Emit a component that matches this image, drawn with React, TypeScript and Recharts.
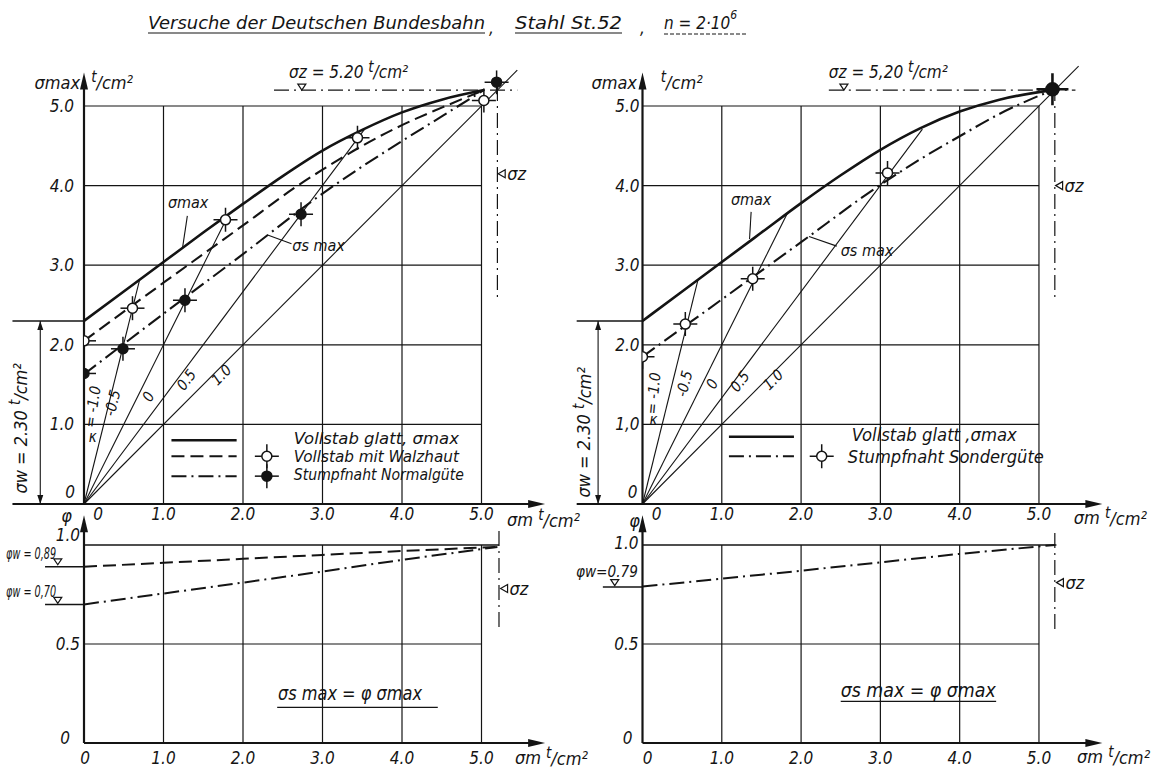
import React from "react";
import {
  ComposedChart,
  Line,
  Scatter,
  XAxis,
  YAxis,
  ReferenceLine,
  ReferenceDot,
} from "recharts";

const FONT = '"DejaVu Sans Condensed", "DejaVu Sans", sans-serif';
const INK = "#141414";
const DASHED = "13 6";
const DASH_DOT = "15 5 2 5";

// ---------- values (t/cm² and φ) ----------
const gridSteps = [1, 2, 3, 4, 5];
const stressTicks = [0, 1, 2, 3, 4, 5];
const phiTicks = [0, 0.5, 1.0];

// left: Vollstab glatt, σmax
const leftGmaxX = [0, 0.5, 1.0, 1.5, 2.0, 2.5, 3.0, 3.5, 4.0, 4.5, 5.03];
const leftGmaxY = [2.3, 2.67, 3.04, 3.41, 3.77, 4.12, 4.44, 4.7, 4.92, 5.08, 5.2];
// left: Vollstab mit Walzhaut
const leftWalzX = [0, 1.0, 2.0, 2.66, 3.0, 3.5, 4.0, 4.5, 5.03];
const leftWalzY = [2.05, 2.78, 3.5, 3.98, 4.2, 4.5, 4.76, 4.98, 5.2];
const leftWalzPtX = [0, 0.61, 1.78, 3.44, 5.03];
const leftWalzPtY = [2.05, 2.46, 3.57, 4.6, 5.07];
// left: Stumpfnaht Normalgüte
const leftNormX = [0, 1.0, 2.0, 3.0, 3.5, 4.0, 4.5, 5.03];
const leftNormY = [1.63, 2.39, 3.14, 3.9, 4.24, 4.56, 4.87, 5.2];
const leftNormPtX = [0, 0.49, 1.27, 2.73, 5.19];
const leftNormPtY = [1.64, 1.95, 2.56, 3.64, 5.3];
// left: rays κ = -0.5, 0, 0.5, 1.0 (from the origin)
const leftRayEndX = [0.7, 1.83, 3.53, 5.45];
const leftRayEndY = [2.82, 3.66, 4.71, 5.45];

// right: Vollstab glatt, σmax
const rightGmaxX = [0, 0.5, 1.0, 1.5, 2.0, 2.5, 3.0, 3.5, 4.0, 4.5, 5.17];
const rightGmaxY = [2.3, 2.67, 3.04, 3.41, 3.78, 4.13, 4.45, 4.72, 4.93, 5.08, 5.2];
// right: Stumpfnaht Sondergüte
const rightSondX = [0, 1.0, 2.0, 3.0, 3.5, 4.0, 4.5, 5.17];
const rightSondY = [1.85, 2.57, 3.29, 4.01, 4.33, 4.62, 4.9, 5.2];
const rightSondPtX = [0, 0.54, 1.39, 3.09, 5.17];
const rightSondPtY = [1.85, 2.26, 2.83, 4.16, 5.21];
const rightRayEndX = [0.7, 1.83, 3.53, 5.5];
const rightRayEndY = [2.82, 3.66, 4.71, 5.5];

// φ = σs max / σmax
const phiWalzX = [0, 1, 2, 3, 4, 5.2];
const phiWalzY = [0.89, 0.91, 0.93, 0.95, 0.97, 0.99];
const phiNormX = [0, 1, 2, 3, 4, 5.2];
const phiNormY = [0.7, 0.755, 0.81, 0.866, 0.925, 0.99];
const phiSondX = [0, 2, 4, 5.2];
const phiSondY = [0.79, 0.87, 0.955, 1.0];

const kappaLabels = ["= -1.0", "-0.5", "0", "0.5", "1.0"];

type Pt = { x: number; y: number };
const zip = (xs: number[], ys: number[]): Pt[] => xs.map((x, i) => ({ x, y: ys[i] }));

// ---------- small drawing helpers ----------
const seg = (x1: number, y1: number, x2: number, y2: number, w = 1.2, dash?: string) => (
  <ReferenceLine
    segment={[{ x: x1, y: y1 }, { x: x2, y: y2 }]}
    stroke={INK}
    strokeWidth={w}
    strokeDasharray={dash}
    ifOverflow="visible"
  />
);

type LabelOpt = { size?: number; anchor?: "start" | "middle" | "end"; rot?: number; len?: number };
const label = (x: number, y: number, content: React.ReactNode, o: LabelOpt = {}) => (
  <ReferenceDot
    x={x}
    y={y}
    r={1}
    ifOverflow="visible"
    shape={(p: any) => (
      <text
        x={p.cx}
        y={p.cy}
        fontFamily={FONT}
        fontStyle="italic"
        fontSize={o.size ?? 17}
        fill={INK}
        textAnchor={o.anchor ?? "start"}
        dominantBaseline="central"
        transform={o.rot ? `rotate(${o.rot} ${p.cx} ${p.cy})` : undefined}
        textLength={o.len}
        lengthAdjust={o.len ? "spacingAndGlyphs" : undefined}
      >
        {content}
      </text>
    )}
  />
);

const mark = (x: number, y: number, draw: (cx: number, cy: number) => React.ReactElement) => (
  <ReferenceDot x={x} y={y} r={1} ifOverflow="visible" shape={(p: any) => draw(p.cx, p.cy)} />
);

const arrowRight = (cx: number, cy: number) => (
  <polygon points={`${cx},${cy} ${cx - 17},${cy - 4} ${cx - 17},${cy + 4}`} fill={INK} />
);
const arrowUp = (cx: number, cy: number) => (
  <polygon points={`${cx},${cy} ${cx - 4},${cy + 17} ${cx + 4},${cy + 17}`} fill={INK} />
);
const tipUp = (cx: number, cy: number) => (
  <polygon points={`${cx},${cy} ${cx - 3},${cy + 9} ${cx + 3},${cy + 9}`} fill={INK} />
);
const tipDown = (cx: number, cy: number) => (
  <polygon points={`${cx},${cy} ${cx - 3},${cy - 9} ${cx + 3},${cy - 9}`} fill={INK} />
);
const levelMark = (cx: number, cy: number) => (
  <polygon points={`${cx},${cy} ${cx - 4},${cy - 6} ${cx + 4},${cy - 6}`} fill="#fff" stroke={INK} strokeWidth={1.2} />
);
const sigmaZ = (cx: number, cy: number) => (
  <g>
    <polygon points={`${cx},${cy} ${cx + 7},${cy - 4} ${cx + 7},${cy + 4}`} fill="#fff" stroke={INK} strokeWidth={1.2} />
    <text x={cx + 9} y={cy} fontFamily={FONT} fontStyle="italic" fontSize={18} fill={INK} dominantBaseline="central">
      σz
    </text>
  </g>
);

const target = (cx: number, cy: number, filled: boolean, heavy = false) => (
  <g stroke={INK} strokeWidth={heavy ? 2.6 : 1.5}>
    <line x1={cx - (heavy ? 16 : 12)} x2={cx + (heavy ? 16 : 12)} y1={cy} y2={cy} />
    <line x1={cx} x2={cx} y1={cy - (heavy ? 16 : 12)} y2={cy + (heavy ? 16 : 12)} />
    <circle cx={cx} cy={cy} r={heavy ? 6 : 5} fill={filled ? INK : "#fff"} />
  </g>
);

const fmt = (v: number, sep = ".") => (v === 0 ? "0" : v.toFixed(1).replace(".", sep));
const xTick = (dy: number, zeroDx: number) => (p: any) => (
  <text
    x={p.x + (p.payload.value === 0 ? zeroDx : 0)}
    y={p.y + dy}
    textAnchor="middle"
    dominantBaseline="central"
    fontFamily={FONT}
    fontStyle="italic"
    fontSize={17}
    fill={INK}
  >
    {fmt(p.payload.value)}
  </text>
);
const yTick = (dx: number, zeroDx: number, zeroDy: number, topDy = 0, oneSep = ".") => (p: any) => {
  const v = p.payload.value;
  const isZero = v === 0;
  const isOne = v === 1;
  return (
    <text
      x={p.x - (isZero ? zeroDx : dx)}
      y={p.y + (isZero ? zeroDy : isOne ? topDy : 0)}
      textAnchor="end"
      dominantBaseline="central"
      fontFamily={FONT}
      fontStyle="italic"
      fontSize={17}
      fill={INK}
    >
      {fmt(v, isOne ? oneSep : ".")}
    </text>
  );
};

const tcm = (
  <>
    <tspan fontSize={15} dy={-5}>t</tspan>
    <tspan dy={5}>/cm²</tspan>
  </>
);

const axisCommon = {
  type: "number" as const,
  tickLine: false,
  axisLine: false,
  tickSize: 0,
  tickMargin: 0,
  interval: 0 as const,
  allowDataOverflow: true,
};

const stressGrid = () => [
  ...gridSteps.map((g) => seg(g, 0, g, 5, 1.2)),
  ...gridSteps.map((g) => seg(0, g, 5, g, 1.2)),
];
const phiGrid = () => [
  ...gridSteps.map((g) => seg(g, 0, g, 1, 1.2)),
  seg(0, 0.5, 5, 0.5, 1.2),
  seg(0, 1, 5.22, 1, 1.4),
];

function TopLeft() {
  return (
    <ComposedChart width={600} height={540} margin={{ top: 70.2, right: 54.9, bottom: 6, left: 0 }}>
      <XAxis {...axisCommon} dataKey="x" domain={[0, 5.8]} ticks={stressTicks} height={30} tick={xTick(10, 14)} />
      <YAxis {...axisCommon} dataKey="y" domain={[0, 5.45]} ticks={stressTicks} width={84} tick={yTick(10, 9, -12)} />
      {React.Children.toArray([
        ...stressGrid(),
        seg(-0.9, 0, 5.72, 0, 2.2),
        mark(5.8, 0, arrowRight),
        seg(0, 0, 0, 5.3, 2.2),
        mark(0, 5.42, arrowUp),
        seg(-0.9, 2.3, 0, 2.3, 1.6),
        seg(-0.55, 0, -0.55, 2.3, 1.1),
        mark(-0.55, 2.3, tipUp),
        mark(-0.55, 0, tipDown),
        label(-0.8, 0.95, <>σw = 2.30 {tcm}</>, { anchor: "middle", rot: -90, size: 18 }),
        label(-0.05, 5.3, "σmax", { anchor: "end", size: 18 }),
        label(0.09, 5.3, tcm, { size: 18 }),
        label(2.58, 5.43, <>σz = 5.20 {tcm}</>, { size: 17 }),
        seg(2.39, 5.2, 5.45, 5.2, 1.2, DASH_DOT),
        mark(2.74, 5.2, levelMark),
        seg(5.2, 5.25, 5.2, 2.6, 1.2, DASH_DOT),
        mark(5.21, 4.15, sigmaZ),
        label(5.32, -0.2, <>σm {tcm}</>, { size: 18 }),
        ...leftRayEndX.map((x, i) => seg(0, 0, x, leftRayEndY[i], 1.1)),
        label(0.11, 1.22, kappaLabels[0], { anchor: "middle", rot: -82, size: 15 }),
        label(0.36, 1.27, kappaLabels[1], { anchor: "middle", rot: -76, size: 15 }),
        label(0.81, 1.35, kappaLabels[2], { anchor: "middle", rot: -63, size: 15 }),
        label(1.29, 1.56, kappaLabels[3], { anchor: "middle", rot: -53, size: 15 }),
        label(1.73, 1.62, kappaLabels[4], { anchor: "middle", rot: -45, size: 15 }),
        label(0.11, 0.84, "κ", { anchor: "middle", size: 15 }),
        label(1.31, 3.79, "σmax", { anchor: "middle", size: 16 }),
        seg(1.3, 3.62, 1.24, 3.22, 1.1),
        label(2.62, 3.25, "σs max", { size: 16 }),
        seg(2.61, 3.27, 2.31, 3.38, 1.1),
        // legend
        seg(1.1, 0.8, 1.92, 0.8, 2.4),
        seg(1.1, 0.6, 1.92, 0.6, 2, DASHED),
        seg(1.1, 0.35, 1.92, 0.35, 2, DASH_DOT),
        mark(2.3, 0.6, (cx, cy) => target(cx, cy, false)),
        mark(2.3, 0.35, (cx, cy) => target(cx, cy, true)),
        label(2.64, 0.82, "Vollstab glatt, σmax", { size: 15, len: 165 }),
        label(2.64, 0.59, "Vollstab  mit  Walzhaut", { size: 15, len: 165 }),
        label(2.64, 0.36, "Stumpfnaht Normalgüte", { size: 15, len: 170 }),
      ])}
      <Line data={zip(leftGmaxX, leftGmaxY)} dataKey="y" type="monotone" stroke={INK} strokeWidth={2.6} dot={false} activeDot={false} isAnimationActive={false} />
      <Line data={zip(leftWalzX, leftWalzY)} dataKey="y" type="monotone" stroke={INK} strokeWidth={2.1} strokeDasharray={DASHED} dot={false} activeDot={false} isAnimationActive={false} />
      <Line data={zip(leftNormX, leftNormY)} dataKey="y" type="monotone" stroke={INK} strokeWidth={2.1} strokeDasharray={DASH_DOT} dot={false} activeDot={false} isAnimationActive={false} />
      <Scatter data={zip(leftWalzPtX, leftWalzPtY)} isAnimationActive={false} shape={(p: any) => target(p.cx, p.cy, false)} />
      <Scatter data={zip(leftNormPtX, leftNormPtY)} isAnimationActive={false} shape={(p: any) => target(p.cx, p.cy, true)} />
    </ComposedChart>
  );
}

function TopRight() {
  return (
    <ComposedChart width={594} height={540} margin={{ top: 70.2, right: 51.6, bottom: 6, left: 0 }}>
      <XAxis {...axisCommon} dataKey="x" domain={[0, 5.8]} ticks={stressTicks} height={30} tick={xTick(10, 14)} />
      <YAxis {...axisCommon} dataKey="y" domain={[0, 5.45]} ticks={stressTicks} width={82.5} tick={yTick(3, 5, -12, 0, ",")} />
      {React.Children.toArray([
        ...stressGrid(),
        seg(-0.83, 0, 5.72, 0, 2.2),
        mark(5.8, 0, arrowRight),
        seg(0, 0, 0, 5.3, 2.2),
        mark(0, 5.42, arrowUp),
        seg(-0.83, 2.3, 0, 2.3, 1.6),
        seg(-0.56, 0, -0.56, 2.3, 1.1),
        mark(-0.56, 2.3, tipUp),
        mark(-0.56, 0, tipDown),
        label(-0.74, 0.9, <>σw = 2.30 {"  "}{tcm}</>, { anchor: "middle", rot: -90, size: 18 }),
        label(-0.07, 5.3, "σmax", { anchor: "end", size: 18 }),
        label(0.23, 5.3, tcm, { size: 18 }),
        label(2.35, 5.43, <>σz = 5,20 {tcm}</>, { size: 17 }),
        seg(2.35, 5.2, 5.46, 5.2, 1.2, DASH_DOT),
        mark(2.54, 5.2, levelMark),
        seg(5.2, 5.25, 5.2, 2.6, 1.2, DASH_DOT),
        mark(5.21, 4.0, sigmaZ),
        label(5.44, -0.17, <>σm {tcm}</>, { size: 18 }),
        ...rightRayEndX.map((x, i) => seg(0, 0, x, rightRayEndY[i], 1.1)),
        label(0.14, 1.39, kappaLabels[0], { anchor: "middle", rot: -85, size: 15 }),
        label(0.53, 1.51, kappaLabels[1], { anchor: "middle", rot: -76, size: 15 }),
        label(0.88, 1.51, kappaLabels[2], { anchor: "middle", rot: -63, size: 15 }),
        label(1.23, 1.54, kappaLabels[3], { anchor: "middle", rot: -53, size: 15 }),
        label(1.65, 1.56, kappaLabels[4], { anchor: "middle", rot: -45, size: 15 }),
        label(0.14, 1.05, "κ", { anchor: "middle", size: 15 }),
        label(1.37, 3.82, "σmax", { anchor: "middle", size: 16 }),
        seg(1.37, 3.67, 1.35, 3.33, 1.1),
        label(2.5, 3.18, "σs max", { size: 16 }),
        seg(2.45, 3.24, 2.1, 3.36, 1.1),
        // legend
        seg(1.09, 0.845, 1.91, 0.845, 2.4),
        seg(1.09, 0.6, 1.91, 0.6, 2, DASH_DOT),
        mark(2.26, 0.6, (cx, cy) => target(cx, cy, false)),
        label(2.64, 0.865, "Vollstab glatt  ,σmax", { size: 17, len: 165 }),
        label(2.59, 0.6, "Stumpfnaht Sondergüte", { size: 18, len: 196 }),
      ])}
      <Line data={zip(rightGmaxX, rightGmaxY)} dataKey="y" type="monotone" stroke={INK} strokeWidth={2.6} dot={false} activeDot={false} isAnimationActive={false} />
      <Line data={zip(rightSondX, rightSondY)} dataKey="y" type="monotone" stroke={INK} strokeWidth={2.1} strokeDasharray={DASH_DOT} dot={false} activeDot={false} isAnimationActive={false} />
      <Scatter
        data={zip(rightSondPtX, rightSondPtY)}
        isAnimationActive={false}
        shape={(p: any) => target(p.cx, p.cy, p.index === rightSondPtX.length - 1, p.index === rightSondPtX.length - 1)}
      />
    </ComposedChart>
  );
}

function BottomLeft() {
  return (
    <ComposedChart width={600} height={281} margin={{ top: 23.3, right: 54.9, bottom: 6, left: 0 }}>
      <XAxis {...axisCommon} dataKey="x" domain={[0, 5.8]} ticks={stressTicks} height={22} tick={xTick(15, 1)} />
      <YAxis {...axisCommon} dataKey="y" domain={[0, 1.16]} ticks={phiTicks} width={84} tick={yTick(4, 14, -5, -10)} />
      {React.Children.toArray([
        ...phiGrid(),
        seg(0, 0, 5.72, 0, 2.2),
        mark(5.8, 0, arrowRight),
        seg(0, 0, 0, 1.08, 2.2),
        mark(0, 1.15, arrowUp),
        label(-0.22, 1.15, "φ", { anchor: "middle", size: 18 }),
        seg(-0.49, 0.89, 0, 0.89, 1.5),
        seg(-0.49, 0.7, 0, 0.7, 1.5),
        mark(-0.33, 0.9, levelMark),
        mark(-0.33, 0.705, levelMark),
        label(-0.98, 0.952, "φw = 0,89", { size: 15, len: 50 }),
        label(-0.98, 0.765, "φw = 0,70", { size: 15, len: 50 }),
        seg(5.22, 1.07, 5.22, 0.56, 1.2, DASH_DOT),
        mark(5.24, 0.78, sigmaZ),
        label(5.42, -0.075, <>σm {tcm}</>, { size: 18 }),
        label(2.44, 0.255, "σs max = φ σmax", { size: 20, len: 144 }),
        seg(2.43, 0.18, 4.45, 0.18, 1.4),
      ])}
      <Line data={zip(phiWalzX, phiWalzY)} dataKey="y" type="linear" stroke={INK} strokeWidth={2} strokeDasharray={DASHED} dot={false} activeDot={false} isAnimationActive={false} />
      <Line data={zip(phiNormX, phiNormY)} dataKey="y" type="linear" stroke={INK} strokeWidth={2} strokeDasharray={DASH_DOT} dot={false} activeDot={false} isAnimationActive={false} />
    </ComposedChart>
  );
}

function BottomRight() {
  return (
    <ComposedChart width={594} height={281} margin={{ top: 23.3, right: 51.6, bottom: 6, left: 0 }}>
      <XAxis {...axisCommon} dataKey="x" domain={[0, 5.8]} ticks={stressTicks} height={22} tick={xTick(15, 5)} />
      <YAxis {...axisCommon} dataKey="y" domain={[0, 1.16]} ticks={phiTicks} width={82.5} tick={yTick(4, 10, -5, -2)} />
      {React.Children.toArray([
        ...phiGrid(),
        seg(0, 0, 5.72, 0, 2.2),
        mark(5.8, 0, arrowRight),
        seg(0, 0, 0, 1.08, 2.2),
        mark(0, 1.15, arrowUp),
        label(-0.1, 1.125, "φ", { anchor: "middle", size: 18 }),
        seg(-0.5, 0.788, 0, 0.788, 1.5),
        mark(-0.35, 0.795, levelMark),
        label(-0.84, 0.865, "φw=0.79", { size: 16, len: 62 }),
        seg(5.2, 1.06, 5.2, 0.55, 1.2, DASH_DOT),
        mark(5.22, 0.81, sigmaZ),
        label(5.48, -0.07, <>σm {tcm}</>, { size: 18 }),
        label(2.5, 0.27, "σs max = φ σmax", { size: 20, len: 155 }),
        seg(2.5, 0.21, 4.46, 0.21, 1.4),
      ])}
      <Line data={zip(phiSondX, phiSondY)} dataKey="y" type="linear" stroke={INK} strokeWidth={2} strokeDasharray={DASH_DOT} dot={false} activeDot={false} isAnimationActive={false} />
    </ComposedChart>
  );
}

function Title() {
  const t = { fontFamily: FONT, fontStyle: "italic" as const, fontSize: 17, fill: INK };
  return (
    <svg width={1154} height={44} style={{ position: "absolute", left: 0, top: 0 }}>
      <text x={148} y={23} {...t} dominantBaseline="central" textLength={337} lengthAdjust="spacingAndGlyphs">
        Versuche der Deutschen Bundesbahn
      </text>
      <line x1={148} x2={485} y1={33} y2={33} stroke={INK} strokeWidth={1.2} />
      <text x={489} y={28} {...t} dominantBaseline="central">,</text>
      <text x={515} y={23} {...t} dominantBaseline="central" textLength={107} lengthAdjust="spacingAndGlyphs">
        Stahl St.52
      </text>
      <line x1={515} x2={622} y1={33} y2={33} stroke={INK} strokeWidth={1.2} />
      <text x={640} y={28} {...t} dominantBaseline="central">,</text>
      <text x={664} y={23} {...t} dominantBaseline="central">
        n = 2·10<tspan fontSize={12} dy={-8}>6</tspan>
      </text>
      <line x1={664} x2={746} y1={34} y2={34} stroke={INK} strokeWidth={1} strokeDasharray="4 2" />
    </svg>
  );
}

export default function App() {
  return (
    <div style={{ position: "absolute", left: 0, top: 0, width: 1154, height: 771, background: "#fff", overflow: "hidden" }}>
      <Title />
      <div style={{ position: "absolute", left: 0, top: 0 }}>
        <TopLeft />
      </div>
      <div style={{ position: "absolute", left: 560, top: 0 }}>
        <TopRight />
      </div>
      <div style={{ position: "absolute", left: 0, top: 490 }}>
        <BottomLeft />
      </div>
      <div style={{ position: "absolute", left: 560, top: 490 }}>
        <BottomRight />
      </div>
    </div>
  );
}
